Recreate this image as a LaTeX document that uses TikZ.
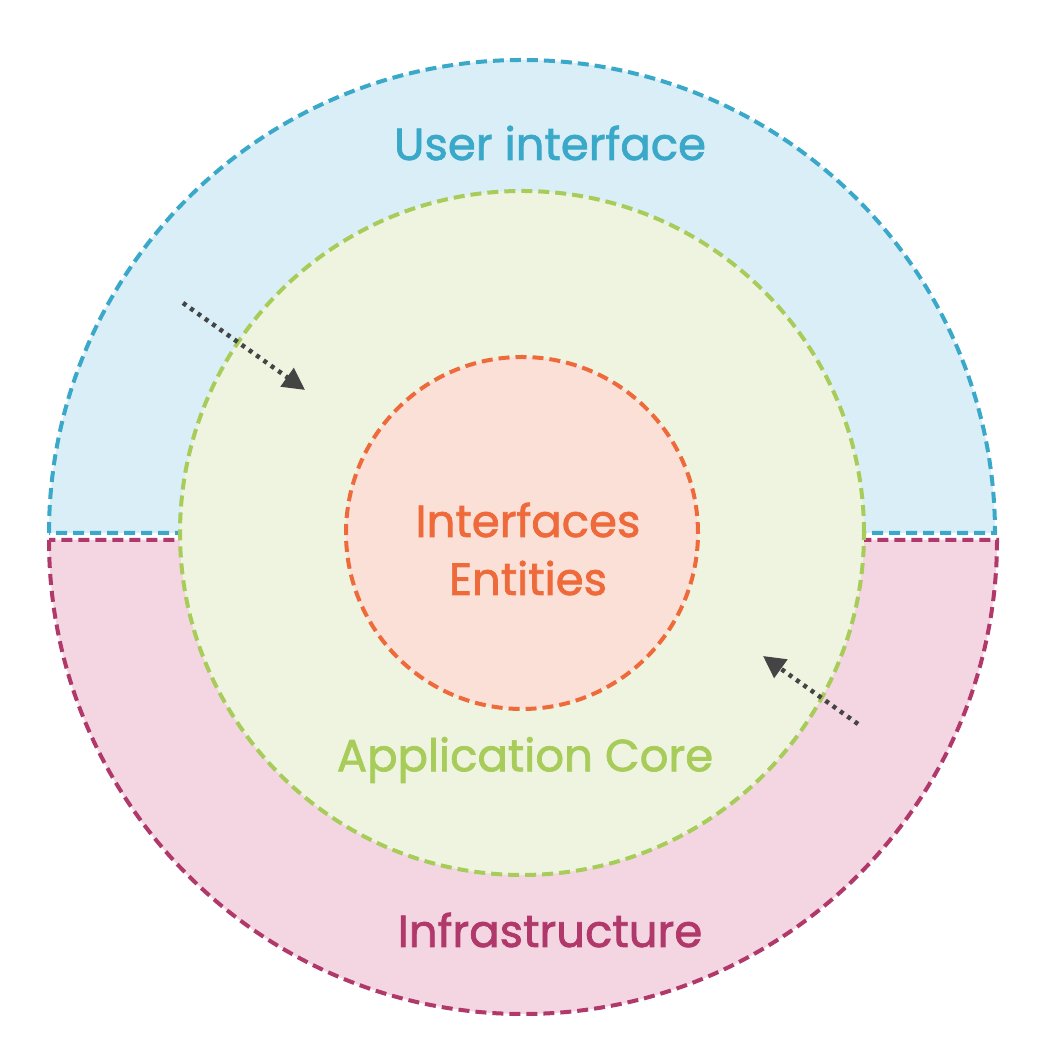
\documentclass[tikz,border=0pt]{standalone}
\usepackage{fontspec}
\setmainfont{Poppins}[BoldFont=Poppins,BoldFeatures={FakeBold=1.6}]
\usetikzlibrary{arrows.meta}
\definecolor{uiS}{HTML}{3AA8C8}\definecolor{uiF}{HTML}{D9EEF6}
\definecolor{inS}{HTML}{B0386A}\definecolor{inF}{HTML}{F3D6E2}
\definecolor{apS}{HTML}{A8CC5A}\definecolor{apF}{HTML}{EEF4E0}
\definecolor{coS}{HTML}{EE6A3A}\definecolor{coF}{HTML}{FBE0D8}
\definecolor{arr}{HTML}{444444}
\tikzset{ring/.style={line width=4pt,dash pattern=on 11pt off 6pt},
 lbl/.style={font=\fontsize{45}{58}\selectfont\bfseries},
 dep/.style={arr,line width=4.5pt,dash pattern=on 4pt off 5pt,-{Triangle[length=22pt,width=22pt]}}}
\begin{document}
\begin{tikzpicture}[x=1pt,y=1pt]
\useasboundingbox (0,0) rectangle (1058,1056);
\fill[white] (0,0) rectangle (1058,1056);
\draw[ring,uiS,fill=uiF] (49,523) arc[start angle=180,end angle=0,radius=473] -- cycle;
\draw[ring,inS,fill=inF] (49,516) arc[start angle=180,end angle=360,radius=474] -- cycle;
\draw[ring,apS,fill=apF] (522,523) circle[radius=342];
\draw[ring,coS,fill=coF] (522,523) circle[radius=176];
\node[lbl,uiS] (ui) at (550,913) {User interface};
\node[lbl,coS,align=center] (core) at (528,507) {Interfaces\\Entities};
\node[lbl,apS] (app) at (525,296) {Application Core};
\node[lbl,inS] (inf) at (550,126) {Infrastructure};
\coordinate (a1) at (183,753); \coordinate (a2) at (305,666);
\coordinate (b1) at (858,332); \coordinate (b2) at (763,400);
\draw[dep] (a1) -- (a2);
\draw[dep] (b1) -- (b2);
\end{tikzpicture}
\end{document}
